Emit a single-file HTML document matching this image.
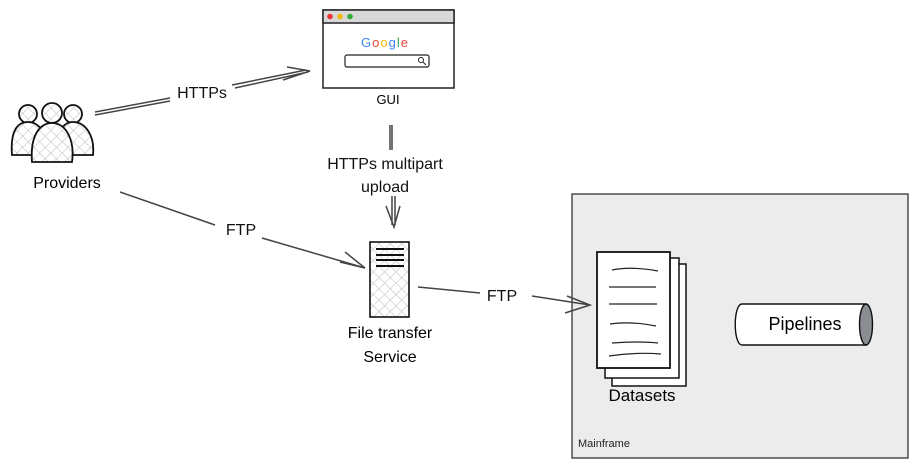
<!DOCTYPE html>
<html><head><meta charset="utf-8"><style>
html,body{margin:0;padding:0;background:#fff;}
svg{display:block;font-family:"Liberation Sans",sans-serif;}
</style></head><body>
<svg width="916" height="469" viewBox="0 0 916 469" xmlns="http://www.w3.org/2000/svg">
<defs>
<pattern id="h" width="8" height="8" patternUnits="userSpaceOnUse" patternTransform="rotate(45)">
<rect width="8" height="8" fill="#fff"/><path d="M0 0V8M0 0H8" stroke="#bbb" stroke-width="1"/></pattern>
</defs>
<rect x="572" y="194" width="336" height="264" fill="#ececec" stroke="#333" stroke-width="1.3"/>
<text x="578" y="447" font-size="11" fill="#222">Mainframe</text>
<rect x="323" y="10" width="131" height="78" fill="#fff" stroke="#222" stroke-width="1.5"/>
<rect x="323" y="10" width="131" height="13" fill="#d8d8d8" stroke="#222" stroke-width="1.5"/>
<circle cx="330" cy="16.5" r="2.8" fill="#e33"/><circle cx="340" cy="16.5" r="2.8" fill="#eb0"/><circle cx="350" cy="16.5" r="2.8" fill="#3a3"/>
<text x="385" y="47" font-size="13" text-anchor="middle" letter-spacing="1"><tspan fill="#4285f4">G</tspan><tspan fill="#ea4335">o</tspan><tspan fill="#fbbc05">o</tspan><tspan fill="#4285f4">g</tspan><tspan fill="#34a853">l</tspan><tspan fill="#ea4335">e</tspan></text>
<rect x="345" y="55" width="84" height="12" rx="2" fill="#fff" stroke="#222" stroke-width="1.2"/>
<circle cx="421" cy="60" r="2.5" fill="none" stroke="#222"/><path d="M423 62l3 3" stroke="#222"/>
<text x="388" y="104" font-size="13" text-anchor="middle">GUI</text>
<g stroke="#111" stroke-width="1.8" fill="url(#h)">
<circle cx="28" cy="114" r="9"/><circle cx="73" cy="114" r="9"/>
<path d="M12 155 C10 130,18 122,28 122 C40 122,48 135,46 155Z"/>
<path d="M58 155 C56 130,64 122,73 122 C85 122,95 135,93 155Z"/>
<circle cx="52" cy="113" r="10"/>
<path d="M32 162 C30 135,40 123,52 123 C66 123,75 140,72 162Z"/>
</g>
<text x="67" y="188" font-size="16" text-anchor="middle">Providers</text>
<rect x="370" y="242" width="39" height="75" fill="url(#h)" stroke="#111" stroke-width="1.6"/>
<path d="M376 249H404M376 255H404M376 260H404M376 266H404" stroke="#111" stroke-width="2"/>
<text x="390" y="338" font-size="16" text-anchor="middle">File transfer</text>
<text x="390" y="362" font-size="16" text-anchor="middle">Service</text>
<rect x="612" y="264" width="74" height="122" fill="#fff" stroke="#111" stroke-width="1.5"/>
<rect x="605" y="258" width="74" height="120" fill="#fff" stroke="#111" stroke-width="1.5"/>
<rect x="597" y="252" width="73" height="116" fill="#fff" stroke="#111" stroke-width="1.8"/>
<g stroke="#222" stroke-width="1.2" fill="none">
<path d="M612 270Q630 266 658 271M609 287H656M609 304H657M610 324Q630 321 656 326M612 343Q640 341 658 343M609 356Q635 352 661 354"/></g>
<text x="642" y="401" font-size="17" text-anchor="middle">Datasets</text>
<path d="M742 304H866V345H742C733 345 733 304 742 304Z" fill="#fff" stroke="#111" stroke-width="1.4"/>
<ellipse cx="866" cy="324.5" rx="6.5" ry="20.5" fill="#8a8d92" stroke="#111" stroke-width="1.4"/>
<text x="805" y="330" font-size="18" text-anchor="middle">Pipelines</text>
<g stroke="#444" stroke-width="1.5" fill="none">
<path d="M95 112L170 98M95 115L170 101M235 88L308 72M232 85L306 70M283 80L310 71L287 67"/>
<path d="M390 125V150M392 125V150M392 196V225M395 196V225M386 206L394 227L400 206"/>
<path d="M120 192L215 225M262 238L365 268M340 262L365 268L345 252"/>
<path d="M418 287L480 293M532 296L590 305M565 313L590 305L567 296"/>
</g>
<g font-size="16" text-anchor="middle" fill="#111">
<text x="202" y="98">HTTPs</text>
<text x="385" y="169">HTTPs multipart</text>
<text x="385" y="192">upload</text>
<text x="241" y="235">FTP</text>
<text x="502" y="301">FTP</text>
</g>
</svg>
</body></html>
